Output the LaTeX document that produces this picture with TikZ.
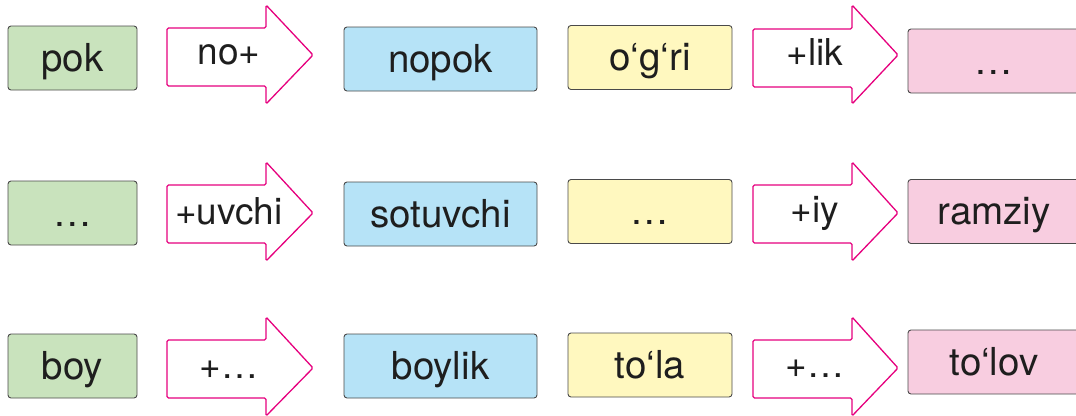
\documentclass[tikz,border=0pt]{standalone}
\usepackage{fontspec}
\setmainfont{TeX Gyre Heros}

\definecolor{wordgreen}{HTML}{C9E3BD}
\definecolor{wordblue}{HTML}{B6E3F7}
\definecolor{wordyellow}{HTML}{FFF8BF}
\definecolor{wordpink}{HTML}{F8CDE0}
\definecolor{boxline}{HTML}{4A4A4A}
\definecolor{arrowpink}{HTML}{E6007E}
\definecolor{textdark}{HTML}{1E1E1E}

\begin{document}
\begin{tikzpicture}[x=1pt, y=-1pt,
	word/.style={draw=boxline, line width=0.9pt, rounded corners=3pt, minimum height=64pt,
		inner sep=0pt, text height=28pt, text depth=2pt, text=textdark,
		font=\fontsize{38.5}{40}\selectfont},
	suffix/.style={inner sep=0pt, text height=24pt, text depth=4pt, text=textdark,
		font=\fontsize{37}{40}\selectfont},
	arrowline/.style={draw=arrowpink, line width=1.3pt, fill=white, rounded corners=1.5pt}]
			\useasboundingbox (0,0) rectangle (1076,415);
			\clip (0,0) rectangle (1076,415);

			% Draw the arrow outlines (first row, then shifted down)
			\draw[arrowline] (167,28) -- (266,28) -- (266,5) -- (313,55) -- (266,104) -- (266,86) -- (167,86) -- cycle;
			\draw[arrowline] (167+586,29) -- (266+586,29) -- (266+586,5) -- (313+585,55) -- (266+586,104) -- (266+586,87) -- (167+586,87) -- cycle;

			\draw[arrowline] (167,28+157) -- (266,28+157) -- (266,5+157) -- (313,55+158) -- (266,104+157) -- (266,86+157) -- (167,86+157) -- cycle;
			\draw[arrowline] (167+586,28+157) -- (266+586,28+157) -- (266+586,5+157) -- (313+585,55+158) -- (266+586,104+157) -- (266+586,86+157) -- (167+586,86+157) -- cycle;

			\draw[arrowline] (167,28+312) -- (266,28+312) -- (266,5+312) -- (313,55+313) -- (266,104+312) -- (266,86+312) -- (167,86+312) -- cycle;
			\draw[arrowline] (167+586,28+312) -- (266+586,28+312) -- (266+586,5+312) -- (313+585,55+313) -- (266+586,104+312) -- (266+586,86+312) -- (167+586,86+312) -- cycle;

			% First row
			\node[word, fill=wordgreen, minimum width=129pt] (pok) at (72.5,58) {pok};
			\node[suffix] (no) at (229,54) {no+};
			\node[word, fill=wordblue, minimum width=193pt] (nopok) at (440.5,59) {nopok};
			\node[word, fill=wordyellow, minimum width=164pt] (ogri) at (650,57.5) {o‘g‘ri};
			\node[suffix] (lik) at (815,55) {+lik};
			\node[word, fill=wordpink, minimum width=172pt] (ogrilik) at (994,61) {\ldots};

			% Second row
			\node[word, fill=wordgreen, minimum width=129pt] (sotmoq) at (72.5,213) {\ldots};
			\node[suffix] (uvchi) at (229,214) {+uvchi};
			\node[word, fill=wordblue, minimum width=193pt] (sotuvchi) at (440.5,214) {sotuvchi};
			\node[word, fill=wordyellow, minimum width=164pt] (ramz) at (650,211.5) {\ldots};
			\node[suffix] (iy) at (815,212) {+iy};
			\node[word, fill=wordpink, minimum width=172pt] (ramziy) at (994,211.5) {ramziy};

			% Third row
			\node[word, fill=wordgreen, minimum width=129pt] (boy) at (72.5,366) {boy};
			\node[suffix] (lik3) at (229,368) {+\ldots};
			\node[word, fill=wordblue, minimum width=193pt] (boylik) at (440.5,366) {boylik};
			\node[word, fill=wordyellow, minimum width=164pt] (tola) at (650,365) {to‘la};
			\node[suffix] (ov) at (815,367) {+\ldots};
			\node[word, fill=wordpink, minimum width=172pt] (tolov) at (994,362) {to‘lov};

		\end{tikzpicture}
\end{document}
